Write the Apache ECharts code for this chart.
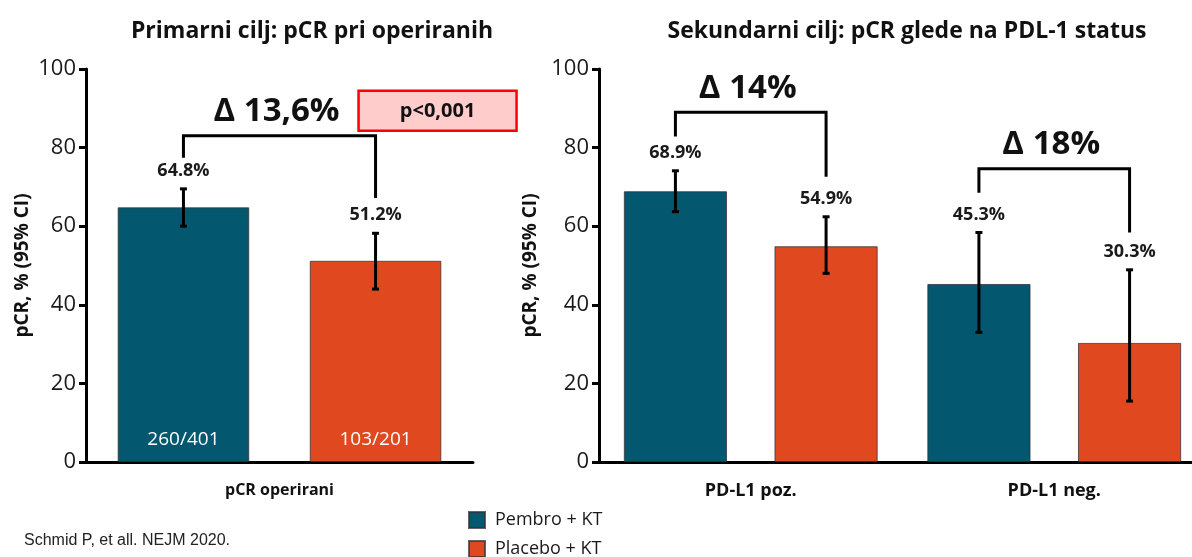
<!DOCTYPE html>
<html>
<head>
<meta charset="utf-8">
<script src="https://cdn.jsdelivr.net/npm/echarts@6/dist/echarts.min.js"></script>
<style>
  html, body { margin: 0; padding: 0; background: #fff; }
  #chart { width: 1192px; height: 557px; }
</style>
</head>
<body>
<div id="chart"></div>
<script>
// ---- data ----
const leftCategories = ['pCR operirani'];
const rightCategories = ['PD-L1 poz.', 'PD-L1 neg.'];

const pembroLeft = [64.8];
const placeboLeft = [51.2];
const pembroLeftCI = [[60.0, 69.5]];
const placeboLeftCI = [[44.0, 58.2]];
const pembroCounts = ['260/401'];
const placeboCounts = ['103/201'];

const pembroRight = [68.9, 45.3];
const placeboRight = [54.9, 30.3];
const pembroRightCI = [[63.7, 74.1], [33.0, 58.4]];
const placeboRightCI = [[48.0, 62.4], [15.5, 48.9]];

// brackets: [category index, bar level, left leg end, right leg end, delta text, p text]
const leftBrackets = [[0, 83.0, 77.4, 67.2, 'Δ 13,6%', 'p<0,001']];
const rightBrackets = [[0, 89.0, 82.8, 72.6, 'Δ 14%', ''], [1, 74.6, 68.5, 58.4, 'Δ 18%', '']];

const yMin = 0, yMax = 100, yStep = 20;
const seriesNames = ['Pembro + KT', 'Placebo + KT'];

// ---- style ----
const TEAL = '#03586F';
const ORANGE = '#E0491F';
const FONT = '"Open Sans", "Noto Sans", sans-serif';
const BAR_FRAC = 0.34;
const GAP_FRAC = 0.46;
const SIDE_OFFSET = BAR_FRAC * (1 + GAP_FRAC) / 2;

function barX(api, cat, side) {
  const cx = api.coord([cat, 0])[0];
  const band = api.size([1, 0])[0];
  return cx + side * band * SIDE_OFFSET;
}

// error bar with caps plus value label above it
function errorRender(side) {
  return function (params, api) {
    const cat = api.value(0);
    const x = barX(api, cat, side);
    const v = api.value(1);
    const yLo = api.coord([cat, api.value(2)])[1];
    const yHi = api.coord([cat, api.value(3)])[1];
    const cap = 3.5;
    const st = { stroke: '#000', lineWidth: 3 };
    return {
      type: 'group',
      children: [
        { type: 'line', shape: { x1: x, y1: yLo, x2: x, y2: yHi }, style: st },
        { type: 'line', shape: { x1: x - cap, y1: yHi, x2: x + cap, y2: yHi }, style: st },
        { type: 'line', shape: { x1: x - cap, y1: yLo, x2: x + cap, y2: yLo }, style: st },
        {
          type: 'text',
          style: {
            x: x, y: yHi - 18, text: v.toFixed(1) + '%',
            textAlign: 'center', textVerticalAlign: 'middle',
            font: 'bold 18px ' + FONT, fill: '#1a1a1a'
          }
        }
      ]
    };
  };
}

// comparison bracket, delta text and optional p-value box
function bracketRender(params, api) {
  const cat = api.value(0);
  const xl = barX(api, cat, -1);
  const xr = barX(api, cat, 1);
  const yTop = api.coord([cat, api.value(1)])[1];
  const yL = api.coord([cat, api.value(2)])[1];
  const yR = api.coord([cat, api.value(3)])[1];
  const delta = api.value(4);
  const pText = api.value(5);
  const children = [
    {
      type: 'polyline',
      shape: { points: [[xl, yL], [xl, yTop], [xr, yTop], [xr, yR]] },
      style: { stroke: '#000', lineWidth: 3, fill: null }
    },
    {
      type: 'text',
      style: {
        x: (xl + xr) / 2 - 3, y: yTop - 24, text: delta,
        textAlign: 'center', textVerticalAlign: 'middle',
        font: 'bold 33px ' + FONT, fill: '#111'
      }
    }
  ];
  if (pText) {
    const bx = xr - 17, bw = 158, bh = 40, by = yTop - 5 - bh;
    children.push({
      type: 'rect',
      shape: { x: bx, y: by, width: bw, height: bh },
      style: { fill: '#FFCCCC', stroke: '#FF0000', lineWidth: 2.5 }
    });
    children.push({
      type: 'text',
      style: {
        x: bx + bw / 2, y: by + bh / 2, text: pText,
        textAlign: 'center', textVerticalAlign: 'middle',
        font: 'bold 20px ' + FONT, fill: '#111'
      }
    });
  }
  return { type: 'group', children: children };
}

function errData(values, ci) {
  return values.map((v, i) => [i, v, ci[i][0], ci[i][1]]);
}

function xAxisCfg(gridIndex, cats) {
  return {
    type: 'category', gridIndex: gridIndex, data: cats,
    axisLine: { lineStyle: { color: '#000', width: 3 } },
    axisTick: { show: false },
    axisLabel: { margin: 20, fontFamily: FONT, fontWeight: 'bold', fontSize: gridIndex === 0 ? 16 : 18, color: '#111' }
  };
}

function yAxisCfg(gridIndex) {
  return {
    type: 'value', gridIndex: gridIndex, min: yMin, max: yMax, interval: yStep,
    name: 'pCR, % (95% CI)', nameLocation: 'middle', nameGap: 54, nameRotate: 90,
    nameTextStyle: { fontFamily: FONT, fontWeight: 'bold', fontSize: 19, color: '#111' },
    splitLine: { show: false },
    axisLine: { show: true, lineStyle: { color: '#000', width: 3 } },
    axisTick: { show: true, length: 7, lineStyle: { color: '#000', width: 3 } },
    axisLabel: { margin: 10, fontFamily: FONT, fontSize: 22, color: '#1a1a1a' }
  };
}

function barSeries(name, axisIdx, data, color, counts) {
  return {
    name: name, type: 'bar', xAxisIndex: axisIdx, yAxisIndex: axisIdx,
    data: data, barWidth: (BAR_FRAC * 100) + '%', barGap: (GAP_FRAC * 100) + '%',
    itemStyle: { color: color, borderColor: 'rgba(50,50,50,0.75)', borderWidth: 1 },
    label: counts ? {
      show: true, position: 'insideBottom', distance: 13,
      formatter: p => counts[p.dataIndex],
      fontFamily: FONT, fontSize: 19, color: '#fff'
    } : { show: false },
    emphasis: { disabled: true },
    z: 2
  };
}

const chart = echarts.init(document.getElementById('chart'), null, { renderer: 'canvas' });
chart.setOption({
  animation: false,
  backgroundColor: '#fff',
  title: [
    { text: 'Primarni cilj: pCR pri operiranih', left: 307, top: 15, textAlign: 'center',
      textStyle: { fontFamily: FONT, fontWeight: 'bold', fontSize: 23, color: '#111' } },
    { text: 'Sekundarni cilj: pCR glede na PDL-1 status', left: 902, top: 15, textAlign: 'center',
      textStyle: { fontFamily: FONT, fontWeight: 'bold', fontSize: 23, color: '#111' } }
  ],
  legend: {
    data: seriesNames, orient: 'vertical', left: 468, top: 510, height: 80, padding: 0,
    itemWidth: 16, itemHeight: 16, itemGap: 9, icon: 'rect', selectedMode: false,
    textStyle: { fontFamily: FONT, fontSize: 18, lineHeight: 20, color: '#1a1a1a', padding: [0, 0, 0, 5] }
  },
  grid: [
    { left: 86, width: 387, top: 69, bottom: 95, outerBoundsMode: 'none' },
    { left: 599, width: 607, top: 69, bottom: 95, outerBoundsMode: 'none' }
  ],
  xAxis: [xAxisCfg(0, leftCategories), xAxisCfg(1, rightCategories)],
  yAxis: [yAxisCfg(0), yAxisCfg(1)],
  graphic: [
    { type: 'text', left: 24, top: 533,
      style: { text: 'Schmid P, et all. NEJM 2020.', font: '16px "Liberation Sans", Arial, sans-serif', fill: '#222' } }
  ],
  series: [
    barSeries(seriesNames[0], 0, pembroLeft, TEAL, pembroCounts),
    barSeries(seriesNames[1], 0, placeboLeft, ORANGE, placeboCounts),
    barSeries(seriesNames[0], 1, pembroRight, TEAL, null),
    barSeries(seriesNames[1], 1, placeboRight, ORANGE, null),
    { type: 'custom', xAxisIndex: 0, yAxisIndex: 0, renderItem: errorRender(-1), data: errData(pembroLeft, pembroLeftCI), z: 5, silent: true },
    { type: 'custom', xAxisIndex: 0, yAxisIndex: 0, renderItem: errorRender(1), data: errData(placeboLeft, placeboLeftCI), z: 5, silent: true },
    { type: 'custom', xAxisIndex: 1, yAxisIndex: 1, renderItem: errorRender(-1), data: errData(pembroRight, pembroRightCI), z: 5, silent: true },
    { type: 'custom', xAxisIndex: 1, yAxisIndex: 1, renderItem: errorRender(1), data: errData(placeboRight, placeboRightCI), z: 5, silent: true },
    { type: 'custom', xAxisIndex: 0, yAxisIndex: 0, renderItem: bracketRender, data: leftBrackets,
      dimensions: ['cat', 'top', 'l', 'r', { name: 'delta', type: 'ordinal' }, { name: 'p', type: 'ordinal' }], z: 5, silent: true, clip: false },
    { type: 'custom', xAxisIndex: 1, yAxisIndex: 1, renderItem: bracketRender, data: rightBrackets,
      dimensions: ['cat', 'top', 'l', 'r', { name: 'delta', type: 'ordinal' }, { name: 'p', type: 'ordinal' }], z: 5, silent: true, clip: false }
  ]
});
</script>
</body>
</html>
